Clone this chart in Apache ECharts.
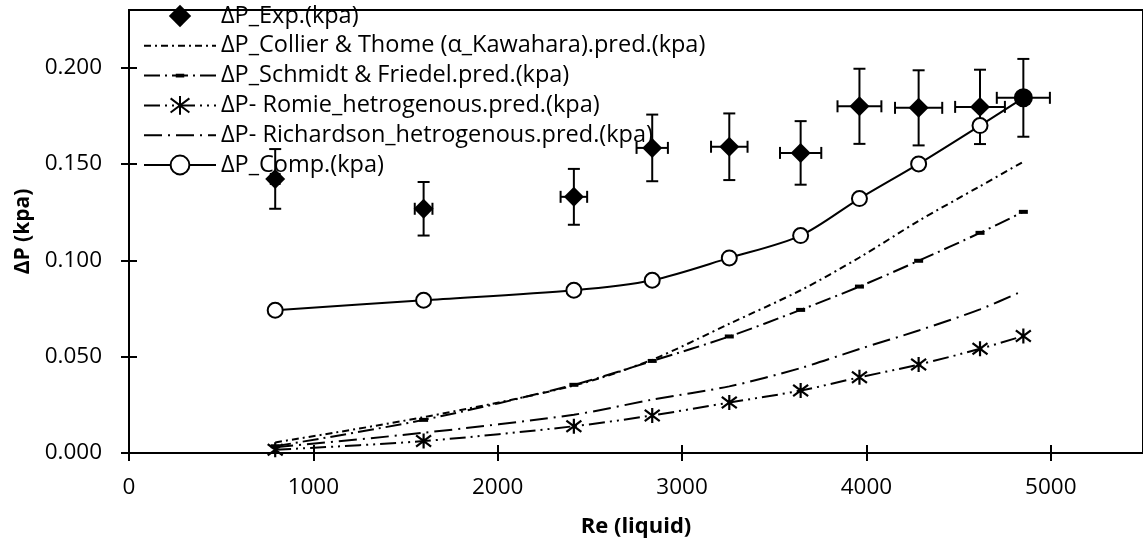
<!DOCTYPE html>
<html>
<head>
<meta charset="utf-8">
<script src="https://cdn.jsdelivr.net/npm/echarts@6/dist/echarts.min.js"></script>
<style>
  html, body { margin: 0; padding: 0; background: #ffffff; }
  #chart { width: 1143px; height: 544px; }
</style>
</head>
<body>
<div id="chart"></div>
<script>
// Liquid Reynolds number of each test run
const reLiquid = [793, 1598, 2413, 2838, 3256, 3643, 3962, 4283, 4616, 4851];

// Measured pressure drop (kPa) with its uncertainty
const dpExp = [0.1423, 0.1268, 0.1330, 0.1584, 0.1590, 0.1558, 0.1800, 0.1792, 0.1797, 0.1844];
const dpExpErr = [0.0155, 0.0139, 0.0145, 0.0173, 0.0173, 0.0165, 0.0195, 0.0195, 0.0193, 0.0202];
const reErr = [24, 48, 72, 85, 99, 112, 119, 128, 135, 144];

// Correlation predictions (kPa)
const dpCollier = [0.0055, 0.0186, 0.0350, 0.0485, 0.0671, 0.0845, 0.1015, 0.1205, 0.1385, 0.1512];
const dpSchmidt = [0.0035, 0.0172, 0.0354, 0.0478, 0.0605, 0.0743, 0.0864, 0.0998, 0.1143, 0.1252];
const dpRomie = [0.0017, 0.0062, 0.0139, 0.0195, 0.0262, 0.0324, 0.0393, 0.0459, 0.0541, 0.0608];
const dpRichardson = [0.0030, 0.0105, 0.0199, 0.0277, 0.0346, 0.0441, 0.0540, 0.0636, 0.0746, 0.0843];

// Computed pressure drop (kPa)
const dpComp = [0.0741, 0.0793, 0.0845, 0.0897, 0.1013, 0.1129, 0.1321, 0.1501, 0.1700, 0.1844];

// Axis ticks
const xTicks = [0, 1000, 2000, 3000, 4000, 5000];
const yTicks = [0, 0.05, 0.10, 0.15, 0.20];

const seriesNames = [
  'ΔP_Exp.(kpa)',
  'ΔP_Collier & Thome (α_Kawahara).pred.(kpa)',
  'ΔP_Schmidt & Friedel.pred.(kpa)',
  'ΔP- Romie_hetrogenous.pred.(kpa)',
  'ΔP- Richardson_hetrogenous.pred.(kpa)',
  'ΔP_Comp.(kpa)'
];

const FONT = '"Open Sans", "Noto Sans", sans-serif';
const BLACK = '#000000';

const pairs = ys => reLiquid.map((x, i) => [x, ys[i]]);

// Marker shapes (padded boxes keep legend and plot sizes consistent)
const diamondSym = 'path://M0,0M20,20M10,0.5L19.5,10L10,19.5L0.5,10Z';
const dashSym = 'path://M0,0M20,20M5.5,8L14.5,8L14.5,12L5.5,12Z';
const starSym = 'path://M10,2L10,18M3.5,4L16.5,16M3.5,16L16.5,4';
const noSym = 'path://M0,0M1,1';

const chart = echarts.init(document.getElementById('chart'), null, { renderer: 'canvas' });

const xBase = {
  type: 'value', min: 0, max: 5500, gridIndex: 0, position: 'bottom',
  splitLine: { show: false }
};
const yBase = {
  type: 'value', min: 0, max: 0.23, gridIndex: 0, position: 'left',
  splitLine: { show: false }
};

const option = {
  animation: false,
  backgroundColor: '#ffffff',
  textStyle: { fontFamily: FONT, color: BLACK },
  grid: {
    left: 129, top: 10, width: 1019, height: 443,
    show: true, borderColor: BLACK, borderWidth: 2, backgroundColor: 'transparent'
  },
  legend: {
    orient: 'vertical',
    left: 143, top: 4,
    padding: 0,
    itemWidth: 72, itemHeight: 23.5, itemGap: 5.8,
    textStyle: { fontFamily: FONT, fontSize: 23.5, lineHeight: 23.5, color: BLACK },
    data: seriesNames,
    selectedMode: false
  },
  xAxis: [
    Object.assign({}, xBase, {
      name: 'Re (liquid)',
      nameLocation: 'middle', nameGap: 63,
      nameTextStyle: { fontFamily: FONT, fontSize: 22, fontWeight: 'bold', color: BLACK },
      axisLine: { show: true, onZero: false, lineStyle: { color: BLACK, width: 2 } },
      axisTick: { show: true, inside: false, length: 8, lineStyle: { color: BLACK, width: 2 }, customValues: xTicks },
      axisLabel: {
        show: true, margin: 23, fontFamily: FONT, fontSize: 22.5, color: BLACK,
        customValues: xTicks,
        formatter: v => String(v)
      }
    }),
    Object.assign({}, xBase, {
      axisLine: { show: false },
      axisTick: { show: true, inside: true, length: 8, lineStyle: { color: BLACK, width: 2 }, customValues: xTicks },
      axisLabel: { show: false }
    })
  ],
  yAxis: [
    Object.assign({}, yBase, {
      name: 'ΔP (kpa)',
      nameLocation: 'middle', nameGap: 95,
      nameTextStyle: { fontFamily: FONT, fontSize: 21, fontWeight: 'bold', color: BLACK },
      axisLine: { show: true, onZero: false, lineStyle: { color: BLACK, width: 2 } },
      axisTick: { show: true, inside: false, length: 8, lineStyle: { color: BLACK, width: 2 }, customValues: yTicks },
      axisLabel: {
        show: true, margin: 27, fontFamily: FONT, fontSize: 22.5, color: BLACK,
        customValues: yTicks,
        formatter: v => Number(v).toFixed(3)
      }
    }),
    Object.assign({}, yBase, {
      axisLine: { show: false },
      axisTick: { show: true, inside: true, length: 8, lineStyle: { color: BLACK, width: 2 }, customValues: yTicks },
      axisLabel: { show: false }
    })
  ],
  series: [
    // Error bars of the measurements (both directions)
    {
      name: 'errorBars',
      type: 'custom',
      xAxisIndex: 0, yAxisIndex: 0,
      z: 2,
      silent: true,
      data: reLiquid.map((x, i) => [x, dpExp[i], reErr[i], dpExpErr[i]]),
      renderItem: function (params, api) {
        const x = api.value(0), y = api.value(1), ex = api.value(2), ey = api.value(3);
        const top = api.coord([x, y + ey]);
        const bot = api.coord([x, y - ey]);
        const lft = api.coord([x - ex, y]);
        const rgt = api.coord([x + ex, y]);
        const cap = 6;
        const st = { stroke: BLACK, lineWidth: 2 };
        const seg = (x1, y1, x2, y2) => ({ type: 'line', shape: { x1, y1, x2, y2 }, style: st });
        return {
          type: 'group',
          children: [
            seg(top[0], top[1], bot[0], bot[1]),
            seg(top[0] - cap, top[1], top[0] + cap, top[1]),
            seg(bot[0] - cap, bot[1], bot[0] + cap, bot[1]),
            seg(lft[0], lft[1], rgt[0], rgt[1]),
            seg(lft[0], lft[1] - cap, lft[0], lft[1] + cap),
            seg(rgt[0], rgt[1] - cap, rgt[0], rgt[1] + cap)
          ]
        };
      }
    },
    {
      name: seriesNames[1],
      type: 'line',
      z: 2,
      smooth: 0.3,
      symbol: noSym,
      showSymbol: false,
      data: pairs(dpCollier),
      lineStyle: { color: BLACK, width: 2, type: [7, 4, 2, 4] },
      itemStyle: { color: BLACK }
    },
    {
      name: seriesNames[2],
      type: 'line',
      z: 2,
      smooth: 0.3,
      symbol: dashSym,
      symbolSize: 20,
      data: pairs(dpSchmidt),
      lineStyle: { color: BLACK, width: 2, type: [16, 5, 2, 5] },
      itemStyle: { color: BLACK }
    },
    {
      name: seriesNames[3],
      type: 'line',
      z: 2,
      smooth: 0.3,
      symbol: starSym,
      symbolSize: 15,
      symbolKeepAspect: false,
      data: pairs(dpRomie),
      lineStyle: { color: BLACK, width: 2, type: [16, 5, 2, 5, 2, 5] },
      itemStyle: { color: 'rgba(0,0,0,0)', borderColor: BLACK, borderWidth: 2.2 }
    },
    {
      name: seriesNames[4],
      type: 'line',
      z: 2,
      smooth: 0.3,
      symbol: noSym,
      showSymbol: false,
      data: pairs(dpRichardson),
      lineStyle: { color: BLACK, width: 2, type: [18, 6, 2, 6] },
      itemStyle: { color: BLACK }
    },
    {
      name: seriesNames[5],
      type: 'line',
      z: 3,
      smooth: 0.3,
      symbol: 'circle',
      symbolSize: 15,
      data: pairs(dpComp),
      lineStyle: { color: BLACK, width: 2, type: 'solid' },
      itemStyle: { color: '#ffffff', borderColor: BLACK, borderWidth: 2 }
    },
    {
      name: seriesNames[0],
      type: 'scatter',
      z: 4,
      symbol: diamondSym,
      symbolSize: 21,
      data: reLiquid.map((x, i) => i === reLiquid.length - 1
        ? { value: [x, dpExp[i]], symbol: 'circle', symbolSize: 19 }
        : [x, dpExp[i]]),
      itemStyle: { color: BLACK, opacity: 1 }
    }
  ]
};

chart.setOption(option);
</script>
</body>
</html>
